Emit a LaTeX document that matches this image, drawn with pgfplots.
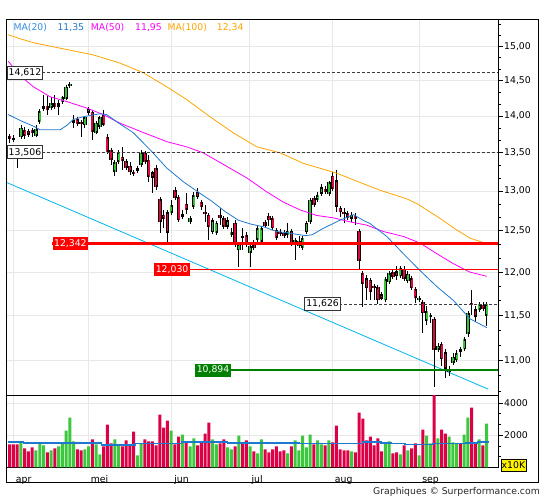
\documentclass[border=0pt]{standalone}
\usepackage{fontspec}
\setmainfont{DejaVu Sans}
\usepackage{pgfplots}
\usepackage{pgfplotstable}
\pgfplotsset{compat=1.18}
\definecolor{cred}{RGB}{220,10,60}
\definecolor{cgreen}{RGB}{55,195,55}
\definecolor{vred}{RGB}{220,0,70}
\definecolor{vgreen}{RGB}{60,200,60}
\definecolor{ma20}{RGB}{30,120,205}
\definecolor{ma20t}{RGB}{50,140,225}
\definecolor{ma50}{RGB}{255,0,255}
\definecolor{ma100}{RGB}{255,165,0}
\definecolor{trend}{RGB}{0,180,240}
\definecolor{gridc}{RGB}{232,232,232}
\definecolor{lred}{RGB}{255,0,0}
\definecolor{lgreen}{RGB}{0,128,0}
\definecolor{dashc}{RGB}{60,60,60}

\pgfplotstableread{
i O H L C V u
0 13.73 13.76 13.63 13.69 1421 0
1 13.70 13.74 13.65 13.67 1421 0
2 13.55 13.58 13.30 13.49 1421 0
3 13.71 13.88 13.70 13.84 1566 1
4 13.81 13.85 13.69 13.73 1174 0
5 13.80 13.82 13.71 13.74 989 0
6 13.81 13.84 13.71 13.76 1236 0
7 13.73 13.88 13.71 13.82 1051 1
8 13.92 14.09 13.89 14.07 1504 1
9 14.10 14.30 14.07 14.14 1360 1
10 14.14 14.28 14.02 14.09 927 0
11 14.11 14.26 14.09 14.18 1051 1
12 14.18 14.30 14.10 14.13 1174 0
13 14.13 14.23 14.02 14.18 1298 1
14 14.20 14.28 14.17 14.26 1524 1
15 14.24 14.42 14.23 14.41 2287 1
16 14.42 14.47 14.40 14.45 3090 1
17 13.91 14.02 13.84 13.95 1607 1
18 13.96 13.99 13.87 13.89 1112 0
19 13.92 13.93 13.71 13.89 1051 0
20 13.87 14.00 13.84 13.98 1112 1
21 14.04 14.11 14.03 14.10 1298 1
22 14.06 14.07 13.67 13.78 1730 0
23 13.77 13.93 13.76 13.91 1421 1
24 13.85 14.00 13.84 13.98 803 1
25 14.02 14.09 13.87 13.88 1298 0
26 13.71 13.76 13.49 13.51 2657 0
27 13.54 13.57 13.34 13.41 1483 0
28 13.25 13.39 13.20 13.38 1730 1
29 13.38 13.54 13.37 13.51 1421 1
30 13.45 13.58 13.27 13.39 1298 0
31 13.39 13.42 13.29 13.30 1669 0
32 13.33 13.38 13.21 13.25 1421 0
33 13.25 13.27 13.20 13.22 2225 0
34 13.26 13.33 13.25 13.30 742 1
35 13.34 13.54 13.33 13.50 1483 1
36 13.50 13.53 13.35 13.38 1730 0
37 13.41 13.47 13.12 13.18 1607 0
38 13.24 13.26 12.98 13.17 1607 0
39 13.30 13.34 13.01 13.05 1360 0
40 12.90 12.92 12.47 12.61 3275 0
41 12.70 12.76 12.53 12.65 2472 0
42 12.73 12.76 12.33 12.47 2905 0
43 12.72 12.89 12.70 12.82 2287 1
44 13.01 13.05 12.89 12.91 1421 0
45 12.92 12.95 12.61 12.63 1916 0
46 12.67 12.76 12.65 12.71 2039 1
47 12.84 12.98 12.71 12.76 1545 0
48 12.61 12.68 12.58 12.66 1298 1
49 12.80 12.99 12.77 12.95 1792 1
50 12.99 13.04 12.90 12.92 1360 0
51 12.86 12.89 12.76 12.80 1545 0
52 12.73 12.82 12.61 12.71 2101 0
53 12.70 12.72 12.39 12.55 2781 0
54 12.48 12.66 12.46 12.63 1730 1
55 12.47 12.62 12.45 12.60 1421 1
56 12.70 12.79 12.57 12.66 1483 0
57 12.66 12.68 12.52 12.55 1730 0
58 12.55 12.67 12.52 12.63 1236 1
59 12.45 12.53 12.42 12.48 1112 1
60 12.60 12.63 12.30 12.33 1298 0
61 12.26 12.36 12.06 12.33 1978 1
62 12.44 12.53 12.26 12.41 1483 0
63 12.45 12.48 12.30 12.33 1669 0
64 12.23 12.34 12.06 12.31 1298 1
65 12.33 12.39 12.26 12.29 989 0
66 12.39 12.56 12.36 12.53 865 1
67 12.36 12.56 12.34 12.53 1730 1
68 12.61 12.63 12.53 12.56 1112 0
69 12.68 12.72 12.56 12.63 927 0
70 12.66 12.68 12.51 12.53 1112 0
71 12.51 12.53 12.39 12.41 1298 0
72 12.48 12.52 12.44 12.46 989 0
73 12.47 12.51 12.41 12.44 1051 0
74 12.45 12.60 12.41 12.50 865 1
75 12.50 12.52 12.31 12.33 1298 0
76 12.35 12.41 12.14 12.39 1669 1
77 12.31 12.44 12.29 12.37 1051 1
78 12.29 12.44 12.26 12.41 1978 1
79 12.48 12.62 12.46 12.60 1236 1
80 12.61 12.91 12.58 12.89 2039 1
81 12.91 12.94 12.80 12.82 1421 0
82 12.89 12.99 12.86 12.95 1669 1
83 12.96 13.09 12.94 13.05 1421 1
84 13.03 13.07 12.96 12.99 1360 0
85 12.96 13.13 12.94 13.11 1669 1
86 13.20 13.25 13.00 13.03 1545 0
87 13.14 13.27 12.73 12.80 2596 0
88 12.79 12.81 12.67 12.73 1112 0
89 12.73 12.79 12.60 12.71 1051 0
90 12.72 12.75 12.63 12.66 1051 0
91 12.65 12.73 12.61 12.70 989 1
92 12.68 12.72 12.57 12.65 927 0
93 12.50 12.51 12.02 12.13 3399 0
94 11.99 12.01 11.59 11.86 3028 0
95 11.93 11.97 11.67 11.81 1669 0
96 11.91 11.93 11.67 11.77 1916 0
97 11.84 11.86 11.67 11.81 1360 0
98 11.82 11.85 11.63 11.67 1792 0
99 11.74 11.77 11.67 11.69 989 0
100 11.67 11.94 11.65 11.92 1545 1
101 11.88 12.01 11.87 11.99 1607 1
102 12.00 12.04 11.92 11.94 865 0
103 12.01 12.07 11.91 11.95 927 0
104 11.95 12.06 11.93 12.05 803 1
105 12.04 12.07 11.89 11.92 1360 0
106 11.89 12.01 11.87 11.98 1051 1
107 11.93 11.95 11.79 11.81 1174 0
108 11.80 11.82 11.64 11.70 1483 0
109 11.67 11.72 11.65 11.70 742 1
110 11.65 11.67 11.30 11.52 2348 0
111 11.44 11.60 11.39 11.55 1978 1
112 11.48 11.52 11.41 11.50 1483 1
113 11.46 11.48 10.71 11.11 4600 0
114 11.11 11.19 11.09 11.16 1792 1
115 11.18 11.20 10.94 11.01 2348 0
116 11.09 11.12 10.81 10.91 2101 0
117 10.87 10.94 10.83 10.91 1916 1
118 10.97 11.08 10.95 11.04 1545 1
119 11.00 11.11 10.98 11.08 1483 1
120 11.12 11.14 11.04 11.09 1483 0
121 11.12 11.25 11.11 11.23 2039 1
122 11.29 11.55 11.26 11.52 3090 1
123 11.64 11.79 11.50 11.62 3708 0
124 11.57 11.60 11.42 11.48 1483 0
125 11.56 11.65 11.54 11.63 1730 1
126 11.62 11.65 11.55 11.57 1360 0
127 11.49 11.65 11.38 11.626 2719 1
}\candles

\begin{document}
\begin{tikzpicture}[x=1pt,y=1pt,font=\fontsize{9.3}{11}\selectfont]
\path (0,0) rectangle (545,500);
% ---------------- price panel ----------------
\begin{axis}[
  at={(6.7pt,104.7pt)}, anchor=south west,
  width=491.3pt, height=375.8pt, scale only axis,
  xmin=-0.8, xmax=130, ymin=10.626, ymax=15.40,
  ymode=log,
  axis line style={black, line width=0.8pt},
  ytick={11,11.5,12,12.5,13,13.5,14,14.5,15},
  yticklabels={{11,00},{11,50},{12,00},{12,50},{13,00},{13,50},{14,00},{14,50},{15,00}},
  minor ytick={10.6667,10.8333,11.1667,11.3333,11.6667,11.8333,12.1667,12.3333,12.6667,12.8333,13.1667,13.3333,13.6667,13.8333,14.1667,14.3333,14.6667,14.8333,15.1667,15.3333},
  ytick pos=right, yticklabel pos=right,
  tick align=outside, major tick length=5pt, minor tick length=3pt,
  tick style={black, line width=0.6pt},
  yticklabel style={inner sep=1pt, black},
  ymajorgrids, xmajorgrids,
  major grid style={gridc, line width=0.9pt},
  xtick={0.96,20.93,43.13,63.71,85.89,109.16}, xticklabels={},
  x tick style={draw=none},
]
% trend line
\addplot[trend, line width=0.8pt] coordinates {(-0.8,13.11) (127.4,10.69)};
% wicks
\addplot[draw=none, mark=none, forget plot,
  error bars/.cd, y dir=both, y explicit, error mark=none,
  error bar style={draw=black, line width=0.8pt}]
  table[x=i, y expr={(\thisrow{H}+\thisrow{L})/2},
        y error plus expr={(\thisrow{H}-\thisrow{L})/2},
        y error minus expr={(\thisrow{H}-\thisrow{L})/2}] {\candles};
% body outline
\addplot[draw=none, mark=none, forget plot,
  error bars/.cd, y dir=both, y explicit, error mark=none,
  error bar style={draw=black, line width=3.4pt}]
  table[x=i, y expr={(\thisrow{O}+\thisrow{C})/2},
        y error plus expr={abs(\thisrow{O}-\thisrow{C})/2},
        y error minus expr={abs(\thisrow{O}-\thisrow{C})/2}] {\candles};
% green bodies
\addplot[draw=none, mark=none, forget plot,
  x filter/.expression={\thisrow{u}>0.5 ? x : nan},
  error bars/.cd, y dir=both, y explicit, error mark=-,
  error bar style={draw=cgreen, line width=1.8pt},
  error mark options={draw=black, line width=0.8pt, mark size=1.7pt}]
  table[x=i, y expr={(\thisrow{O}+\thisrow{C})/2},
        y error plus expr={abs(\thisrow{O}-\thisrow{C})/2},
        y error minus expr={abs(\thisrow{O}-\thisrow{C})/2}] {\candles};
% red bodies
\addplot[draw=none, mark=none, forget plot,
  x filter/.expression={\thisrow{u}<0.5 ? x : nan},
  error bars/.cd, y dir=both, y explicit, error mark=-,
  error bar style={draw=cred, line width=1.8pt},
  error mark options={draw=black, line width=0.8pt, mark size=1.7pt}]
  table[x=i, y expr={(\thisrow{O}+\thisrow{C})/2},
        y error plus expr={abs(\thisrow{O}-\thisrow{C})/2},
        y error minus expr={abs(\thisrow{O}-\thisrow{C})/2}] {\candles};
% MA(100)
\addplot[ma100, line width=0.8pt] coordinates {
(-0.4,15.17) (2.7,15.11) (6.3,15.05) (10.7,15.00) (15.2,14.95) (22.3,14.87)
(29.4,14.75) (35.6,14.61) (41.8,14.41) (47.1,14.23) (53.3,13.99) (59.5,13.77)
(65.8,13.58) (72.0,13.50) (78.2,13.36) (87.1,13.23) (95.9,13.06) (98.6,13.01)
(105.7,12.90) (108.4,12.84) (113.7,12.68) (119.0,12.51) (122.5,12.41) (127.0,12.34)};
% MA(50)
\addplot[ma50, line width=0.8pt] coordinates {
(-0.4,14.78) (2.7,14.57) (6.3,14.41) (10.7,14.27) (15.2,14.20) (20.5,14.11)
(24.9,14.02) (29.4,13.90) (34.7,13.79) (41.8,13.65) (47.1,13.58) (51.5,13.50)
(57.8,13.32) (63.1,13.17) (68.4,12.99) (72.8,12.86) (77.3,12.76) (81.7,12.69)
(86.2,12.66) (90.6,12.61) (95.0,12.57) (99.5,12.49) (104.8,12.43) (109.2,12.35)
(113.7,12.22) (118.1,12.10) (122.5,12.00) (127.0,11.95)};
% MA(20)
\addplot[ma20, line width=0.8pt] coordinates {
(-0.4,14.02) (2.7,13.94) (6.3,13.86) (8.1,13.81) (13.4,13.81) (15.2,13.87)
(16.9,13.95) (19.6,13.99) (24.0,14.03) (25.8,14.02) (28.5,13.92) (32.9,13.77)
(37.4,13.54) (41.8,13.30) (46.2,13.12) (50.7,12.97) (53.8,12.87) (57.3,12.74)
(60.9,12.63) (64.4,12.58) (67.5,12.55) (71.1,12.49) (74.6,12.47) (78.6,12.44)
(80.5,12.45) (83.5,12.53) (87.9,12.63) (91.5,12.70) (94.1,12.63) (95.9,12.59)
(100.4,12.43) (104.8,12.22) (109.2,12.02) (113.7,11.83) (118.1,11.67) (122.5,11.46)
(127.0,11.36)};
% horizontal levels
\addplot[dashc, dash pattern=on 3pt off 2pt, line width=0.8pt] coordinates {(-0.8,14.612) (130,14.612)};
\addplot[dashc, dash pattern=on 3pt off 2pt, line width=0.8pt] coordinates {(-0.8,13.506) (130,13.506)};
\addplot[dashc, dash pattern=on 3pt off 2pt, line width=0.8pt] coordinates {(78.43,11.626) (130,11.626)};
\addplot[lred, line width=2.7pt] coordinates {(11.34,12.342) (130,12.342)};
\addplot[lred, line width=0.9pt] coordinates {(38.42,12.030) (130,12.030)};
\addplot[lgreen, line width=2.7pt] coordinates {(49.33,10.894) (130,10.894)};
% level labels
\tikzset{lvl/.style={anchor=west, inner xsep=1.6pt, inner ysep=0pt, minimum height=13pt, text height=7pt, text depth=1.5pt}}
\node[lvl, draw=black!80, line width=0.8pt, fill=white] at (axis cs:-0.8,14.612) {14,612};
\node[lvl, draw=black!80, line width=0.8pt, fill=white] at (axis cs:-0.8,13.506) {13,506};
\node[lvl, draw=black!80, line width=0.8pt, fill=white] at (axis cs:78.43,11.626) {11,626};
\node[lvl, fill=lred, text=white] at (axis cs:11.34,12.342) {12,342};
\node[lvl, fill=lred, text=white] at (axis cs:38.42,12.030) {12,030};
\node[lvl, fill=lgreen, text=white] at (axis cs:49.33,10.894) {10,894};
\end{axis}
% ---------------- volume panel ----------------
\begin{axis}[
  at={(6.7pt,32.7pt)}, anchor=south west,
  width=491.3pt, height=72pt, scale only axis,
  xmin=-0.8, xmax=130, ymin=0, ymax=4480,
  axis line style={black, line width=0.8pt},
  ytick={2000,4000}, yticklabels={2000,4000},
  minor ytick={667,1333,2667,3333},
  ytick pos=right, yticklabel pos=right,
  tick align=outside, major tick length=5pt, minor tick length=3pt,
  tick style={black, line width=0.6pt},
  yticklabel style={inner sep=1pt, black},
  ymajorgrids, xmajorgrids,
  major grid style={gridc, line width=0.9pt},
  xtick={0.96,20.93,43.13,63.71,85.89,109.16},
  xticklabels={apr,mei,jun,jul,aug,sep},
  x tick style={draw=none},
  xticklabel style={anchor=base west, inner sep=0pt, xshift=2.4pt, yshift=-9.7pt, black},
]
\addplot[ybar, bar width=3pt, bar shift=0pt, fill=vred, draw=none,
  x filter/.expression={\thisrow{u}<0.5 ? x : nan}] table[x=i, y=V] {\candles};
\addplot[ybar, bar width=3pt, bar shift=0pt, fill=vgreen, draw=none,
  x filter/.expression={\thisrow{u}>0.5 ? x : nan}] table[x=i, y=V] {\candles};
\addplot[const plot, ma20, line width=1.4pt] coordinates {
(-0.4,1566) (3.6,1524) (24.5,1380) (33.4,1463) (45.8,1566) (51.1,1586) (58,1524)
(77,1483) (94,1586) (98.8,1524) (101.5,1463) (105.2,1400) (112.7,1463)
(121.5,1524) (124.6,1586) (127.5,1586)};
\end{axis}
% ---------------- frame and texts ----------------
\draw[black, line width=1pt] (6.7,18) rectangle (538,480.5);
\node[anchor=base west, inner sep=0pt, text=ma20t] at (13.3,469.5) {MA(20)};
\node[anchor=base west, inner sep=0pt, text=ma20] at (57.3,469.5) {11,35};
\node[anchor=base west, inner sep=0pt, text=ma50] at (90.7,469.5) {MA(50)};
\node[anchor=base west, inner sep=0pt, text=ma50] at (135,469.5) {11,95};
\node[anchor=base west, inner sep=0pt, text=ma100] at (167.3,469.5) {MA(100)};
\node[anchor=base west, inner sep=0pt, text=ma100] at (216.7,469.5) {12,34};
\node[fill=yellow, draw=black, line width=0.5pt, inner sep=0pt, minimum width=25.3pt, minimum height=12pt] at (513.4,35) {x10K};
\node[anchor=base east, inner sep=0pt, text=black!85] at (540,6) {Graphiques © Surperformance.com};
\end{tikzpicture}
\end{document}
